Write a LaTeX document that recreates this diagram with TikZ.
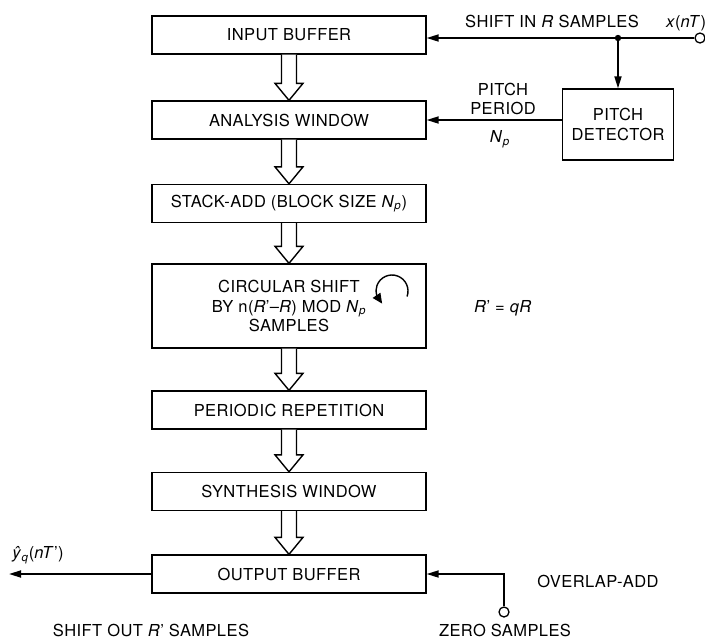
\documentclass[tikz,border=0pt]{standalone}
\usepackage{fontspec}
\setmainfont[LetterSpace=2.5]{TeX Gyre Heros}
\usetikzlibrary{arrows.meta,calc,bending}

\newcommand\Np{\textit{N}\textsubscript{\textit{p}}}
% hollow block arrow between two stacked boxes
\newcommand\fatarrow[2]{%
  \draw[fat] let \p1=(#1.south), \p2=(#2.north) in
    (\x1-7.5pt,\y1) -- (\x1-7.5pt,\y2+17pt) -- (\x1-14pt,\y2+17pt) -- (\x1,\y2)
    -- (\x1+14pt,\y2+17pt) -- (\x1+7.5pt,\y2+17pt) -- (\x1+7.5pt,\y1);}

\begin{document}
\begin{tikzpicture}[x=1pt, y=-1pt,
    every node/.style={font=\fontsize{16.5}{19.5}\selectfont},
    blk/.style={draw, line width=1.3pt, minimum width=274pt, minimum height=38pt, inner sep=0pt, align=center},
    sig/.style={line width=1.7pt, -{Triangle[length=12pt,width=7pt]}},
    fat/.style={line width=1.4pt, fill=white},
    term/.style={draw, circle, line width=1.3pt, inner sep=0pt, minimum size=10pt}]
    \useasboundingbox (0,0) rectangle (705,643);

    % main chain
    \node[blk] (ib) at (289,35) {INPUT BUFFER};
    \node[blk] (aw) at (289,120) {ANALYSIS WINDOW};
    \node[blk] (sa) at (289,203.5) {STACK-ADD (BLOCK SIZE \Np)};
    \node[blk, minimum height=84pt] (cs) at (289,306) {CIRCULAR SHIFT\\BY n(\textit{R}'--\textit{R}) MOD \Np\\SAMPLES};
    \node[blk] (pr) at (289,410) {PERIODIC REPETITION};
    \node[blk] (sw) at (289,491.5) {SYNTHESIS WINDOW};
    \node[blk] (ob) at (289,574) {OUTPUT BUFFER};

    \foreach \a/\b in {ib/aw,aw/sa,sa/cs,cs/pr,pr/sw,sw/ob} {\fatarrow{\a}{\b}}

    \draw[line width=1.4pt, -{Triangle[length=10pt,width=9pt,flex]}]
        ([shift={(-20:16pt)}]392,291) arc[start angle=-20, end angle=232, radius=16pt];

    % pitch branch
    \node[draw, line width=1.3pt, minimum width=111pt, minimum height=71pt, align=center] (pd) at (618,124.5) {PITCH\\DETECTOR};
    \node[term] (xin) at (700,38) {};
    \coordinate (jn) at (pd.north |- xin);
    \draw[sig] (xin) -- (xin -| ib.east);
    \fill (jn) circle (3.2pt);
    \draw[sig] (jn) -- (pd.north);
    \draw[sig] (pd.west |- aw.east) -- (aw.east);

    \node (lshin) at (552,21) {SHIFT IN \textit{R} SAMPLES};
    \node (lx) at (686,23) {\textit{x}(\textit{nT})};
    \node[align=center] (lpp) at (503,99) {PITCH\\PERIOD};
    \node (lnp) at (500,139) {\Np};
    \node (lrq) at (503,308) {\textit{R}' = \textit{qR}};

    % output side
    \coordinate (yout) at (9,574);
    \draw[sig] (ob.west) -- (yout);
    \node[term] (zin) at (504,612) {};
    \draw[sig] (zin.north) |- (ob.east);

    \node (ly) at (38,555) {\textit{ŷ}\textsubscript{\textit{q}}(\textit{nT}')};
    \node (lola) at (598,581) {OVERLAP-ADD};
    \node (lsho) at (151,630) {SHIFT OUT \textit{R}' SAMPLES};
    \node (lzs) at (505,630) {ZERO SAMPLES};
\end{tikzpicture}
\end{document}
